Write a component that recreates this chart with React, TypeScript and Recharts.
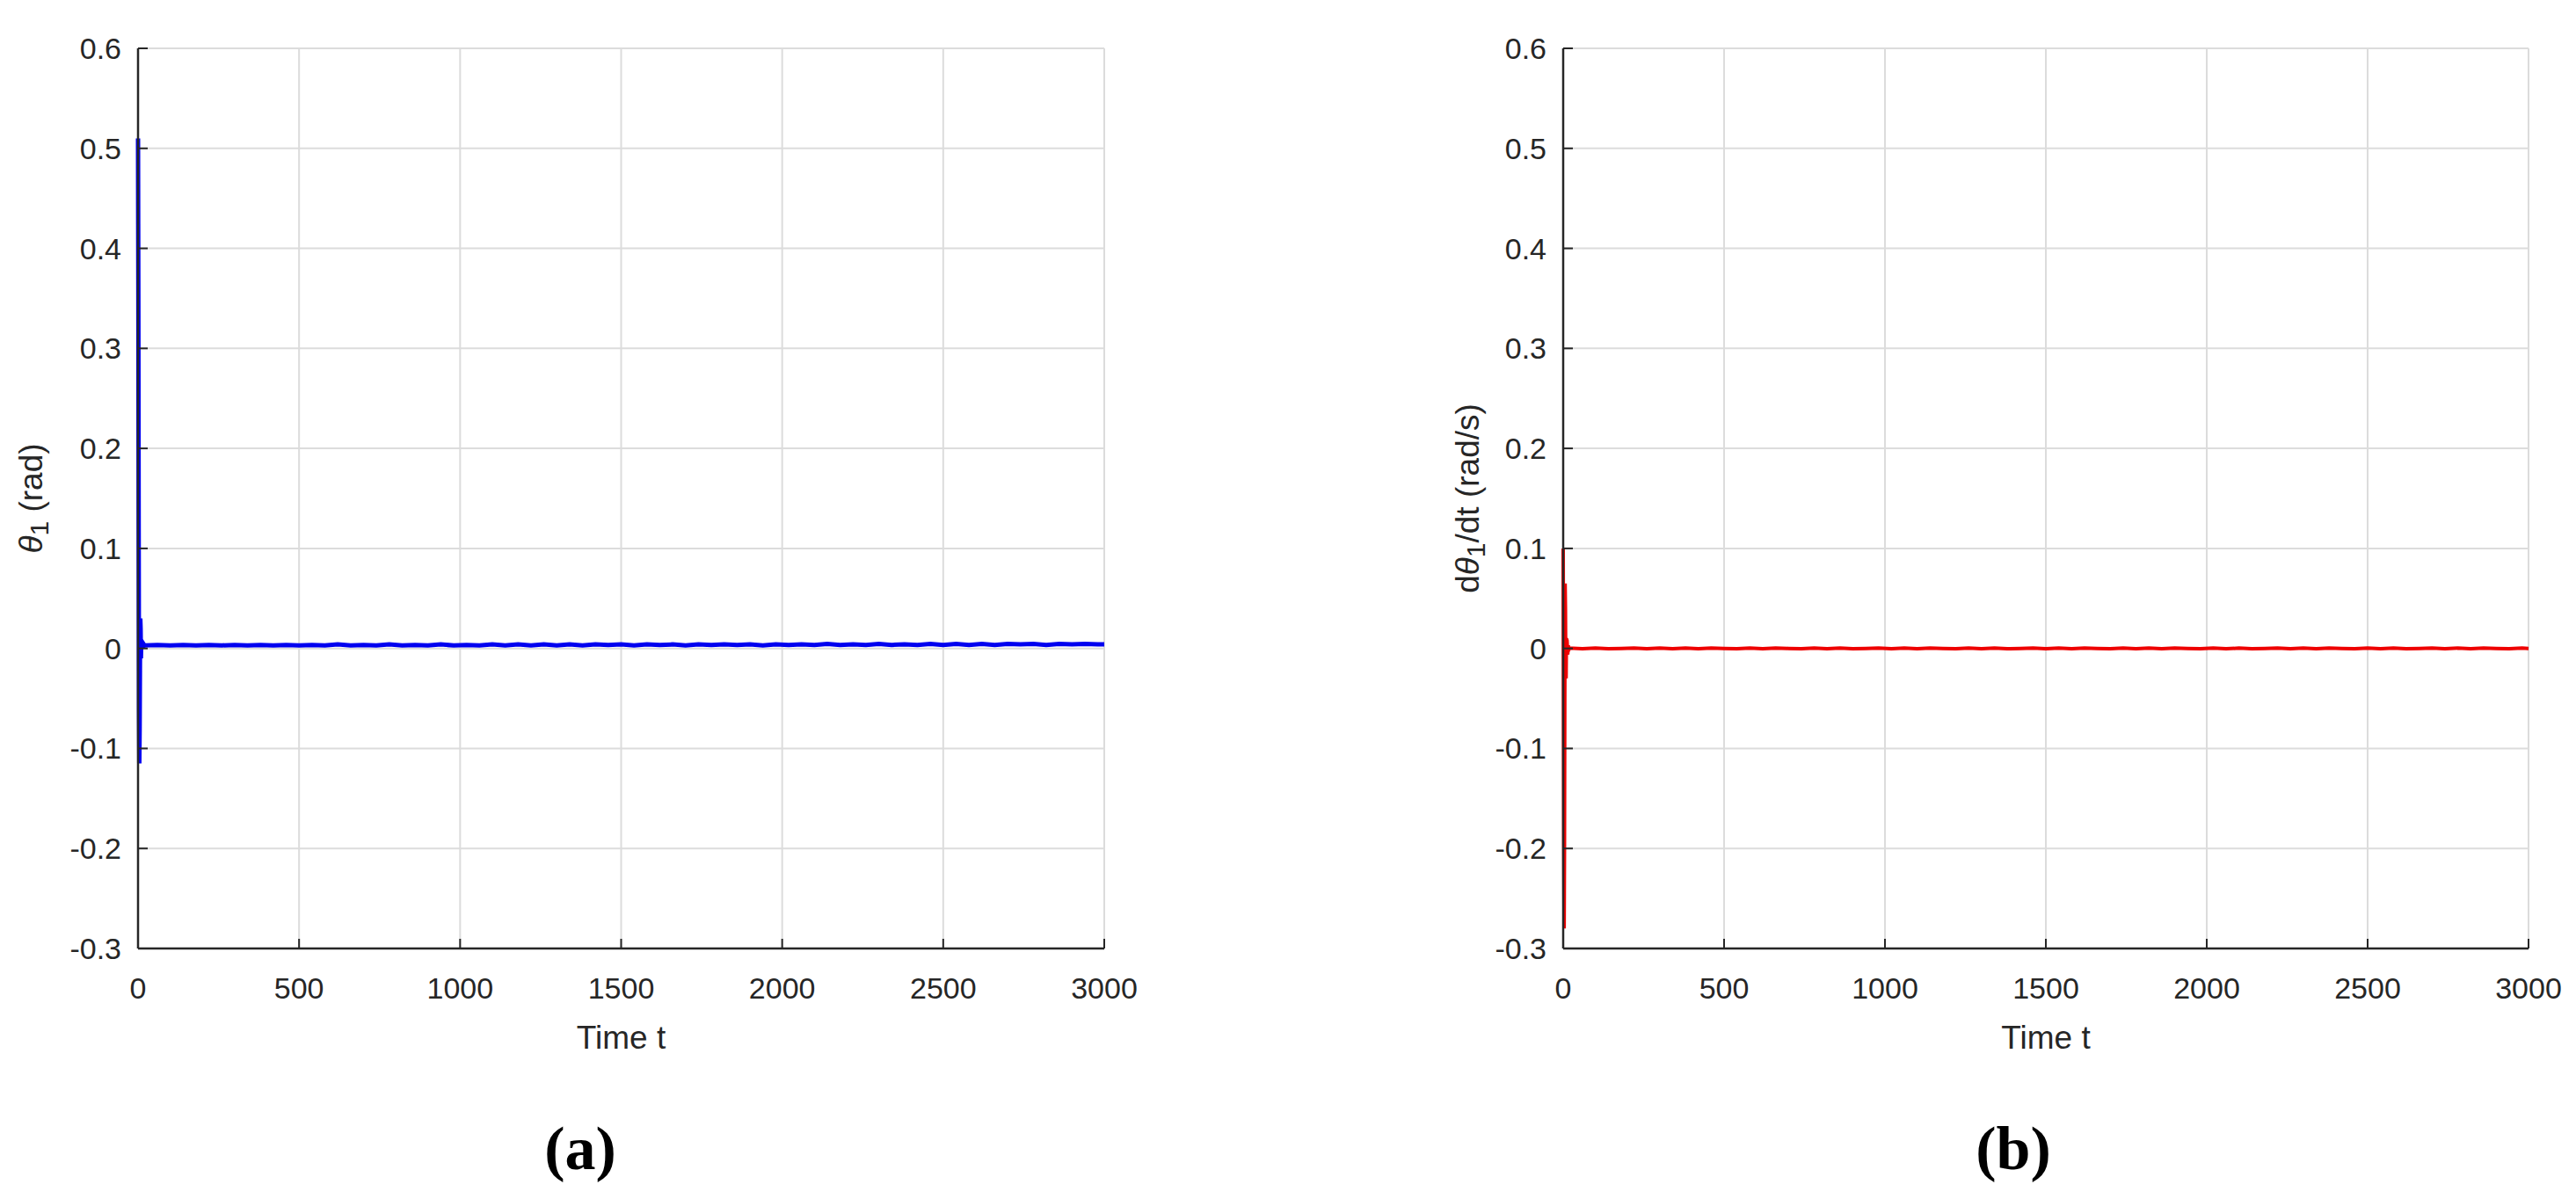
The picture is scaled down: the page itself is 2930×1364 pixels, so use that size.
import React from "react";
import { CartesianGrid, Label, Line, LineChart, XAxis, YAxis } from "recharts";

// time samples (s): dense at the start transient, sparse afterwards
const timeHead = [0, 1, 2, 3, 4, 5, 6, 7, 8, 9, 10, 12, 14, 16, 18];
const timeTail = [
  20, 60, 100, 140, 180, 220, 260, 300, 340, 380, 420, 460, 500, 540, 580, 620, 660, 700, 740, 780,
  820, 860, 900, 940, 980, 1020, 1060, 1100, 1140, 1180, 1220, 1260, 1300, 1340, 1380, 1420, 1460, 1500,
  1540, 1580, 1620, 1660, 1700, 1740, 1780, 1820, 1860, 1900, 1940, 1980, 2020, 2060, 2100, 2140, 2180,
  2220, 2260, 2300, 2340, 2380, 2420, 2460, 2500, 2540, 2580, 2620, 2660, 2700, 2740, 2780, 2820, 2860,
  2900, 2940, 2980, 3000,
];

// theta_1 (rad)
const thetaHead = [0.51, 0.35, 0.12, -0.06, -0.115, -0.08, -0.01, 0.03, 0.02, -0.01, 0.008, 0.0, 0.006, 0.001, 0.004];
const thetaTail = [
  0.003, 0.0035, 0.003, 0.0035, 0.003, 0.0035, 0.003, 0.0035, 0.003, 0.0035,
  0.003, 0.0035, 0.003, 0.0035, 0.003, 0.004, 0.003, 0.0035, 0.003, 0.004,
  0.003, 0.0035, 0.003, 0.004, 0.003, 0.0035, 0.003, 0.004, 0.003, 0.004,
  0.003, 0.004, 0.003, 0.004, 0.003, 0.004, 0.0035, 0.004, 0.003, 0.004,
  0.0035, 0.004, 0.003, 0.004, 0.0035, 0.004, 0.0035, 0.004, 0.003, 0.004,
  0.0035, 0.004, 0.0035, 0.0045, 0.0035, 0.004, 0.0035, 0.0045, 0.0035, 0.004,
  0.0035, 0.0045, 0.0035, 0.0045, 0.0035, 0.0045, 0.0035, 0.0045, 0.004, 0.0045,
  0.0035, 0.0045, 0.004, 0.0045, 0.004, 0.004,
];

// d theta_1 / dt (rad/s)
const omegaHead = [0.1, -0.05, -0.2, -0.28, -0.2, -0.05, 0.065, 0.04, -0.02, -0.03, 0.01, 0.008, -0.006, 0.003, -0.001];
const omegaTail = [
  0.0003, -0.0003, 0.0003, -0.0003, 0.0, 0.0003, -0.0003, 0.0003, -0.0003, 0.0003,
  -0.0003, 0.0003, 0.0, -0.0003, 0.0003, -0.0003, 0.0003, 0.0, -0.0003, 0.0003,
  -0.0003, 0.0003, -0.0003, 0.0, 0.0003, -0.0003, 0.0003, -0.0003, 0.0003, 0.0,
  -0.0003, 0.0003, -0.0003, 0.0003, -0.0003, 0.0, 0.0003, -0.0003, 0.0003, -0.0003,
  0.0003, 0.0, -0.0003, 0.0003, -0.0003, 0.0003, -0.0003, 0.0003, 0.0, -0.0003,
  0.0003, -0.0003, 0.0003, -0.0003, 0.0, 0.0003, -0.0003, 0.0003, -0.0003, 0.0003,
  0.0, -0.0003, 0.0003, -0.0003, 0.0003, -0.0003, 0.0, 0.0003, -0.0003, 0.0003,
  -0.0003, 0.0003, 0.0, -0.0003, 0.0003, 0.0,
];

const xTicks = [0, 500, 1000, 1500, 2000, 2500, 3000];
const yTicks = [-0.3, -0.2, -0.1, 0, 0.1, 0.2, 0.3, 0.4, 0.5, 0.6];

const time = [...timeHead, ...timeTail];
const theta = [...thetaHead, ...thetaTail];
const omega = [...omegaHead, ...omegaTail];
const thetaData = time.map((t, i) => ({ t, v: theta[i] }));
const omegaData = time.map((t, i) => ({ t, v: omega[i] }));

const FONT = "'Liberation Sans', Arial, Helvetica, sans-serif";
const AXIS = "#262626";
const GRID = "#dcdcdc";
const TICK_FS = 34;
const LABEL_FS = 37;

const BottomTick = (p: any) => (
  <g>
    <line x1={p.x} x2={p.x} y1={p.y} y2={p.y - 11} stroke={AXIS} strokeWidth={2} />
    <text x={p.x} y={p.y + 45} textAnchor="middle" dominantBaseline="central" fontSize={TICK_FS} fontFamily={FONT} fill={AXIS}>
      {p.payload.value}
    </text>
  </g>
);

const LeftTick = (p: any) => (
  <g>
    <line x1={p.x} x2={p.x + 11} y1={p.y} y2={p.y} stroke={AXIS} strokeWidth={2} />
    <text x={p.x - 19} y={p.y} textAnchor="end" dominantBaseline="central" fontSize={TICK_FS} fontFamily={FONT} fill={AXIS}>
      {p.payload.value}
    </text>
  </g>
);

const TopTick = (p: any) => <line x1={p.x} x2={p.x} y1={p.y} y2={p.y + 11} stroke={AXIS} strokeWidth={2} />;
const RightTick = (p: any) => <line x1={p.x} x2={p.x - 11} y1={p.y} y2={p.y} stroke={AXIS} strokeWidth={2} />;

const timeLabel = (p: any) => {
  const vb = p.viewBox;
  return (
    <text x={vb.x + vb.width / 2} y={vb.y + 101} textAnchor="middle" dominantBaseline="central" fontSize={LABEL_FS} fontFamily={FONT} fill={AXIS}>
      Time t
    </text>
  );
};

const yLabel = (cx: number, kind: "theta" | "omega") => (p: any) => {
  const vb = p.viewBox;
  const cy = vb.y + vb.height / 2;
  return (
    <text
      x={cx}
      y={cy}
      transform={`rotate(-90, ${cx}, ${cy})`}
      textAnchor="middle"
      dominantBaseline="central"
      fontSize={LABEL_FS}
      fontFamily={FONT}
      fill={AXIS}
    >
      {kind === "omega" && <tspan>d</tspan>}
      <tspan fontStyle="italic">θ</tspan>
      <tspan dy={9} fontSize={30}>1</tspan>
      <tspan dy={-9}>{kind === "omega" ? "/dt (rad/s)" : " (rad)"}</tspan>
    </text>
  );
};

function Panel(props: { data: { t: number; v: number }[]; color: string; left: number; width: number; axisW: number; right: number; labelX: number; kind: "theta" | "omega"; lineW: number }) {
  const { data, color, left, width, axisW, right, labelX, kind, lineW } = props;
  return (
    <div style={{ position: "absolute", left, top: 0 }}>
      <LineChart width={width} height={1200} data={data} margin={{ top: 55, right, bottom: 61, left: 0 }}>
        <CartesianGrid xAxisId="x" yAxisId="y" stroke={GRID} strokeWidth={2} />
        <XAxis
          xAxisId="x"
          dataKey="t"
          type="number"
          domain={[0, 3000]}
          ticks={xTicks}
          interval={0}
          height={60}
          tickSize={0}
          tickMargin={0}
          tickLine={false}
          tick={BottomTick}
          axisLine={{ stroke: AXIS, strokeWidth: 2.5 }}
        >
          <Label content={timeLabel} />
        </XAxis>
        <XAxis
          xAxisId="top"
          orientation="top"
          dataKey="t"
          type="number"
          domain={[0, 3000]}
          ticks={xTicks}
          interval={0}
          height={0}
          tickSize={0}
          tickMargin={0}
          tickLine={false}
          tick={TopTick}
          axisLine={{ stroke: AXIS, strokeWidth: 2.5 }}
        />
        <YAxis
          yAxisId="y"
          type="number"
          domain={[-0.3, 0.6]}
          ticks={yTicks}
          interval={0}
          width={axisW}
          tickSize={0}
          tickMargin={0}
          tickLine={false}
          tick={LeftTick}
          axisLine={{ stroke: AXIS, strokeWidth: 2.5 }}
        >
          <Label content={yLabel(labelX, kind)} />
        </YAxis>
        <YAxis
          yAxisId="yr"
          orientation="right"
          type="number"
          domain={[-0.3, 0.6]}
          ticks={yTicks}
          interval={0}
          width={0}
          tickSize={0}
          tickMargin={0}
          tickLine={false}
          tick={RightTick}
          axisLine={{ stroke: AXIS, strokeWidth: 2.5 }}
        />
        <Line
          xAxisId="x"
          yAxisId="y"
          type="linear"
          dataKey="v"
          stroke={color}
          strokeWidth={lineW}
          dot={false}
          isAnimationActive={false}
        />
      </LineChart>
    </div>
  );
}

const captionStyle = (cx: number): React.CSSProperties => ({
  position: "absolute",
  left: cx,
  top: 1307,
  transform: "translate(-50%, -50%)",
  fontFamily: "'Liberation Serif', 'Times New Roman', serif",
  fontWeight: "bold",
  fontSize: 70,
  lineHeight: 1,
  color: "#000",
});

export default function App() {
  return (
    <div style={{ position: "absolute", left: 0, top: 0, width: 2930, height: 1364, background: "#fff", overflow: "hidden" }}>
      <Panel data={thetaData} color="#0000f0" left={0} width={1400} axisW={157} right={144} labelX={35} kind="theta" lineW={5} />
      <Panel data={omegaData} color="#ee0000" left={1500} width={1430} axisW={278} right={54} labelX={169} kind="omega" lineW={4} />
      <div style={captionStyle(660)}>(a)</div>
      <div style={captionStyle(2290)}>(b)</div>
    </div>
  );
}
